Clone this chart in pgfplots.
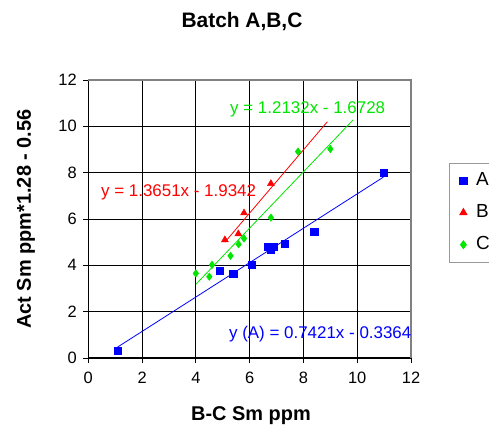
\documentclass[border=0pt]{standalone}
\usepackage{pgfplots}
\pgfplotsset{compat=1.18}
\usepackage{fontspec}
\setmainfont{Liberation Sans}
\definecolor{cA}{RGB}{0,0,255}
\definecolor{cB}{RGB}{255,0,0}
\definecolor{cC}{RGB}{0,230,0}
\begin{document}
\begin{tikzpicture}
\path (0,0) rectangle (489bp,427bp);
\begin{axis}[
  at={(88.3bp,69bp)}, anchor=south west,
  scale only axis, width=322.7bp, height=278bp,
  xmin=0, xmax=12, ymin=0, ymax=12,
  xtick={0,2,...,12}, ytick={0,2,...,12},
  grid=major, major grid style={black, line width=0.75bp},
  axis line style={black, line width=1.2bp},
  tick align=outside, major tick length=5bp, tick style={black, line width=0.8bp},
  xtick pos=bottom, ytick pos=left,
  /pgf/number format/assume math mode=true,
  ticklabel style={font=\fontsize{16.5}{16.5}\selectfont},
  xticklabel style={yshift=-6bp},
  yticklabel style={xshift=-3bp},
  legend style={at={(1.1187,0.7025)}, anchor=north west, draw=gray!80, line width=1bp,
    font=\fontsize{19}{19}\selectfont, inner xsep=10bp, inner ysep=6.5bp,
    nodes={inner sep=2bp, text height=14bp, text depth=4bp}, row sep=10bp,
    /tikz/every odd column/.append style={column sep=7bp}},
  legend cell align=left,
  clip=false,
]
\addplot[only marks, mark=square*, mark size=3.6bp, color=cA] coordinates {
 (1.09,0.32) (4.90,3.78) (5.39,3.65) (6.09,4.02) (6.69,4.80) (6.79,4.67) (6.88,4.80) (7.29,4.94) (8.40,5.45) (10.97,8.00)};
\addlegendentry{A}
\addplot[only marks, mark=triangle*, mark size=4bp, color=cB] coordinates {
 (5.08,5.10) (5.58,5.36) (5.79,6.26) (6.79,7.53)};
\addlegendentry{B}
\addplot[only marks, mark=diamond*, mark size=3.8bp, color=cC] coordinates {
 (4.00,3.65) (4.50,3.51) (4.60,4.02) (5.29,4.41) (5.59,4.91) (5.79,5.16) (6.79,6.06) (7.80,8.91) (9.00,9.02)};
\addlegendentry{C}
\addplot[cA, line width=0.8bp, forget plot] coordinates {(1.09,0.472) (10.97,7.805)};
\addplot[cB, line width=0.8bp, forget plot] coordinates {(5.08,5.000) (8.89,10.20)};
\addplot[cC, line width=0.8bp, forget plot] coordinates {(4.00,3.18) (9.85,10.28)};
\draw[gray, line width=2bp] (rel axis cs:0,1) -- (rel axis cs:1,1) -- (rel axis cs:1,0);
\node[cC, anchor=base west, inner sep=0pt, font=\fontsize{17}{17}\selectfont] at (axis cs:5.27,10.57) {y = 1.2132x - 1.6728};
\node[cB, anchor=base west, inner sep=0pt, font=\fontsize{17}{17}\selectfont] at (axis cs:0.47,6.95) {y = 1.3651x - 1.9342};
\node[cA, anchor=base west, inner sep=0pt, font=\fontsize{17}{17}\selectfont] at (axis cs:5.23,0.86) {y (A) = 0.7421x - 0.3364};
\end{axis}
\node[font=\bfseries\fontsize{21}{21}\selectfont] at (242bp,405bp) {Batch A,B,C};
\node[font=\bfseries\fontsize{20}{20}\selectfont] at (251bp,11bp) {B-C Sm ppm};
\node[font=\bfseries\fontsize{20}{20}\selectfont, rotate=90] at (26bp,208bp) {Act Sm ppm*1.28 - 0.56};
\pgfresetboundingbox
\path[use as bounding box] (0,0) rectangle (489bp,427bp);
\end{tikzpicture}
\end{document}
